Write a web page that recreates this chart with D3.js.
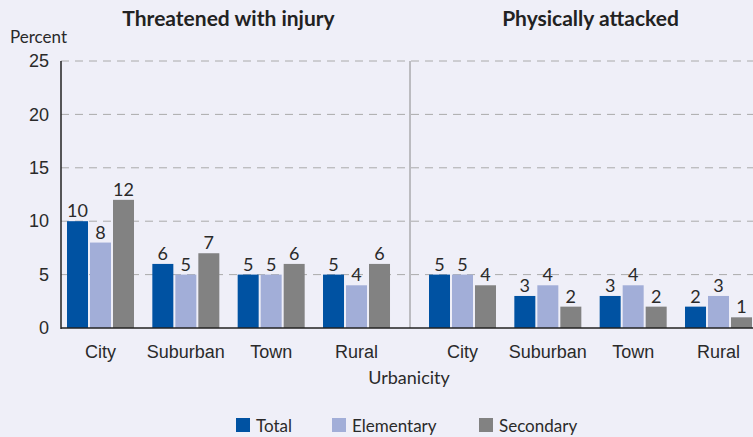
<!DOCTYPE html>
<html>
<head>
<meta charset="utf-8">
<script src="https://cdn.jsdelivr.net/npm/d3@7"></script>
<style>
  body { margin: 0; background: #efeff8; }
  svg { display: block; font-family: Lato, "Open Sans", sans-serif; }
  .grid line { stroke: #aaa; stroke-dasharray: 8 6; }
  .lbl { font-size: 18px; fill: #2a2a2a; }
  .title { font-size: 21px; font-weight: bold; fill: #222; }
</style>
</head>
<body>
<svg width="753" height="437"></svg>
<script>
// data
const panels = ['Threatened with injury', 'Physically attacked'];
const categories = ['City', 'Suburban', 'Town', 'Rural'];
const seriesNames = ['Total', 'Elementary', 'Secondary'];
const threatenedTotal = [10, 6, 5, 5];
const threatenedElementary = [8, 5, 5, 4];
const threatenedSecondary = [12, 7, 6, 6];
const attackedTotal = [5, 3, 3, 2];
const attackedElementary = [5, 4, 4, 3];
const attackedSecondary = [4, 2, 2, 1];
const yTicks = [0, 5, 10, 15, 20, 25];

const colors = ['#0052a2', '#a2aed8', '#828282'];

const svg = d3.select('svg');
const width = +svg.attr('width');

const yScale = d3.scaleLinear().domain([0, 25]).range([328, 61]);
const axisLeft = 61;
const divider = 410;

const panelData = [
    [threatenedTotal, threatenedElementary, threatenedSecondary],
    [attackedTotal, attackedElementary, attackedSecondary]
];
const panelRanges = [[67, 390], [429, 752]];

// gridlines
const grid = svg.append('g').attr('class', 'grid');
grid.selectAll('line').data(yTicks.filter(t => t > 0))
    .enter().append('line')
    .attr('x1', axisLeft).attr('x2', width)
    .attr('y1', d => yScale(d)).attr('y2', d => yScale(d));

// y axis labels
const yAxis = d3.axisLeft(yScale).tickValues(yTicks).tickSize(0).tickPadding(12);
const yAxisG = svg.append('g')
    .attr('transform', `translate(${axisLeft},0)`)
    .call(yAxis);
yAxisG.select('.domain').remove();
yAxisG.selectAll('text').attr('class', 'lbl').attr('font-family', null).attr('font-size', null);

svg.append('text').attr('class', 'lbl')
    .attr('x', 10).attr('y', 43).style('font-size', '17px')
    .text('Percent');

const xSub = d3.scaleBand().domain(seriesNames).range([0, 67]).paddingInner(0.087);

panels.forEach((title, pi) => {
    const x0 = d3.scaleBand().domain(categories)
        .range(panelRanges[pi]).paddingInner(0.215).paddingOuter(0);

    const rows = categories.map((c, i) => ({
        category: c,
        values: seriesNames.map((s, si) => ({ series: s, idx: si, value: panelData[pi][si][i] }))
    }));

    const groups = svg.append('g').selectAll('g').data(rows)
        .enter().append('g')
        .attr('transform', d => `translate(${x0(d.category)},0)`);

    groups.selectAll('rect').data(d => d.values)
        .enter().append('rect')
        .attr('x', d => xSub(d.series))
        .attr('y', d => yScale(d.value))
        .attr('width', xSub.bandwidth())
        .attr('height', d => yScale(0) - yScale(d.value))
        .attr('fill', d => colors[d.idx]);

    groups.selectAll('.val').data(d => d.values)
        .enter().append('text')
        .attr('class', 'lbl val')
        .attr('text-anchor', 'middle')
        .attr('x', d => xSub(d.series) + xSub.bandwidth() / 2)
        .attr('y', d => yScale(d.value) - 4)
        .text(d => d.value);

    const xAxis = d3.axisBottom(x0).tickSize(0).tickPadding(17);
    const xAxisG = svg.append('g')
        .attr('transform', `translate(0,${yScale(0)})`)
        .call(xAxis);
    xAxisG.select('.domain').remove();
    xAxisG.selectAll('text').attr('class', 'lbl').attr('font-family', null).attr('font-size', null);

    svg.append('text').attr('class', 'title')
        .attr('text-anchor', 'middle')
        .attr('x', (panelRanges[pi][0] + panelRanges[pi][1]) / 2)
        .attr('y', 26)
        .text(title);
});

// axis lines
svg.append('line')
    .attr('x1', divider).attr('x2', divider)
    .attr('y1', yScale(25)).attr('y2', yScale(0))
    .attr('stroke', '#888').attr('stroke-width', 1);
svg.append('line')
    .attr('x1', axisLeft).attr('x2', axisLeft)
    .attr('y1', yScale(25)).attr('y2', yScale(0) + 1)
    .attr('stroke', '#222').attr('stroke-width', 1.5);
svg.append('line')
    .attr('x1', axisLeft).attr('x2', width)
    .attr('y1', yScale(0)).attr('y2', yScale(0))
    .attr('stroke', '#222').attr('stroke-width', 1.5);

svg.append('text').attr('class', 'lbl')
    .attr('text-anchor', 'middle')
    .attr('x', 409).attr('y', 384)
    .text('Urbanicity');

// legend
const legendX = [236, 332, 479];
const legend = svg.append('g').selectAll('g').data(seriesNames)
    .enter().append('g')
    .attr('transform', (d, i) => `translate(${legendX[i]},418)`);
legend.append('rect')
    .attr('width', 14).attr('height', 14)
    .attr('fill', (d, i) => colors[i]);
legend.append('text').attr('class', 'lbl')
    .attr('x', 20).attr('y', 14)
    .style('font-size', '17px')
    .text(d => d);
</script>
</body>
</html>
